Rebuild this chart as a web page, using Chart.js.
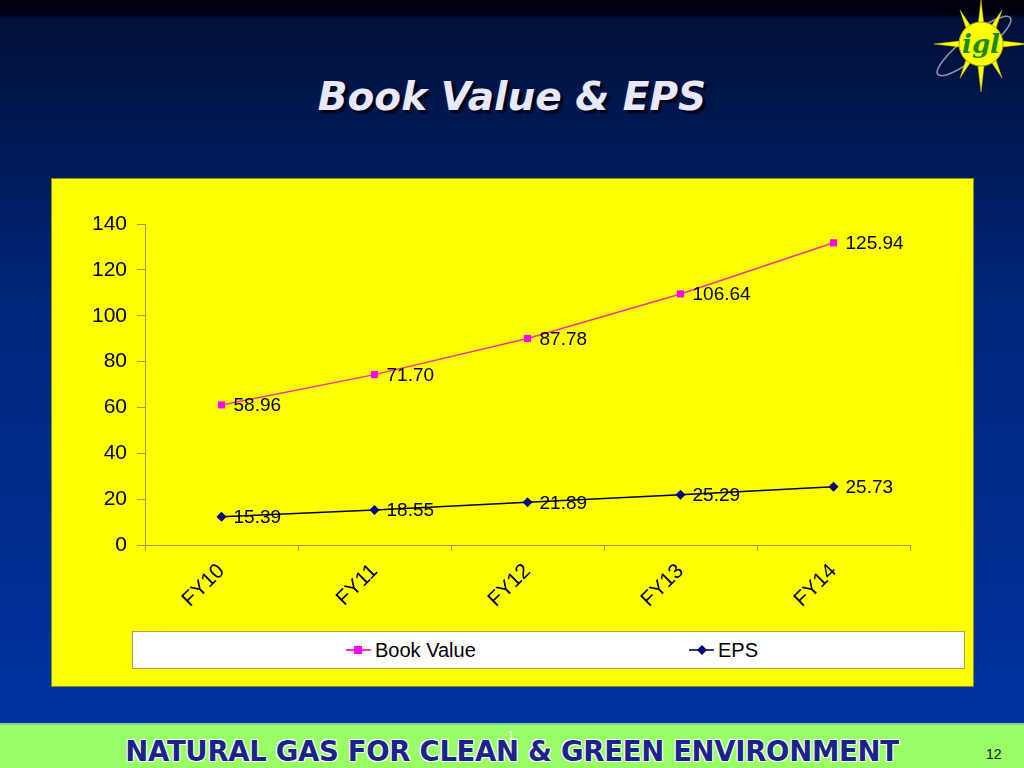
<!DOCTYPE html>
<html>
<head>
<meta charset="utf-8">
<script src="https://cdn.jsdelivr.net/npm/chart.js@4/dist/chart.umd.min.js"></script>
<style>
  html, body { margin: 0; padding: 0; }
  body {
    width: 1024px; height: 768px; position: relative; overflow: hidden;
    background: linear-gradient(to bottom, #00000f 0px, #00000f 14px, #001038 18px, #00267a 300px, #0033a0 720px);
    font-family: Arial, "Liberation Sans", sans-serif;
  }
  #title {
    position: absolute; left: 0; width: 1024px; top: 74px; text-align: center;
    font-family: "Comic Sans MS", "DejaVu Sans", sans-serif;
    font-weight: bold; font-style: italic; font-size: 39px; color: #e8e8ff;
    text-shadow: 3px 3px 2px #000018;
  }
  #panel {
    position: absolute; left: 52px; top: 179px; width: 921px; height: 507px;
    background: #ffff00; box-shadow: 0 0 0 1px #8a8a30;
  }
  #panel canvas { position: absolute; left: 0; top: 0; }
  #legend {
    position: absolute; left: 80px; top: 452px; width: 831px; height: 36px;
    background: #fff; border: 1px solid #a8a848;
    font-size: 20px; color: #000;
  }
  .item { position: absolute; top: 7px; height: 22px; line-height: 22px; }
  .item svg { position: absolute; left: 0; top: 3px; }
  .item span { position: absolute; left: 30px; white-space: nowrap; }
  #footer {
    position: absolute; left: 0; top: 723px; width: 1024px; height: 45px;
    background: #99ff66; border-top: 2px solid #7fd0a0;
  }
  #slogan {
    position: absolute; left: 0; width: 1024px; top: 10px; text-align: center;
    font-family: "Comic Sans MS", "DejaVu Sans", sans-serif; font-weight: bold;
    font-size: 27.5px; color: #1a2388; letter-spacing: -0.3px;
    text-shadow: -1px -1px 0 #fff, 1px -1px 0 #fff, -1px 1px 0 #fff, 1px 1px 0 #fff;
  }
  #page { position: absolute; left: 986px; top: 21px; font-size: 14px; color: #111; }
  #stray { position: absolute; left: 508px; top: 4px; font-size: 11px; color: #fff; }
  #logo { position: absolute; left: 930px; top: 0px; }
</style>
</head>
<body>
<svg id="logo" width="94" height="92" viewBox="0 0 94 92">
  <ellipse cx="44" cy="46" rx="46" ry="11" transform="rotate(-38 44 46)" fill="none" stroke="#8a93a8" stroke-width="1.6"/>
  <g fill="#ffff00" stroke="#c8c800" stroke-width="0.5">
    <polygon points="51,0 54,26 48,26"/>
    <polygon points="51,92 54,66 48,66"/>
    <polygon points="4,44 30,41 30,47"/>
    <polygon points="98,44 72,41 72,47"/>
    <polygon points="30,10 42,28 37,31"/>
    <polygon points="72,78 60,60 65,57"/>
    <polygon points="72,10 60,28 65,31"/>
    <polygon points="30,78 42,60 37,57"/>
  </g>
  <circle cx="51" cy="44" r="22" fill="#ffff00" stroke="#b0b000" stroke-width="1"/>
  <text x="51" y="53" text-anchor="middle" font-family="DejaVu Serif, serif" font-style="italic" font-weight="bold" font-size="26" fill="#1a8a1a">igl</text>
</svg>

<div id="title">Book Value &amp; EPS</div>

<div id="panel">
  <canvas id="chart" width="921" height="507"></canvas>
  <div id="legend">
    <div class="item" style="left:212px;">
      <svg width="28" height="16"><line x1="1" y1="8" x2="26" y2="8" stroke="#ff33aa" stroke-width="2"/><rect x="9" y="4" width="8" height="8" fill="#ff00ff"/></svg>
      <span>Book Value</span>
    </div>
    <div class="item" style="left:555px;">
      <svg width="28" height="16"><line x1="1" y1="8" x2="26" y2="8" stroke="#333388" stroke-width="2"/><polygon points="14,3 19,8 14,13 9,8" fill="#000080"/></svg>
      <span>EPS</span>
    </div>
  </div>
</div>

<div id="footer">
  <div id="stray">1</div>
  <div id="slogan">NATURAL GAS FOR CLEAN &amp; GREEN ENVIRONMENT</div>
  <div id="page">12</div>
</div>

<script>
var years = ['FY10', 'FY11', 'FY12', 'FY13', 'FY14'];
var bookValue = [61.1, 74.3, 90.1, 109.5, 131.8];
var eps = [12.3, 15.3, 18.6, 21.9, 25.4];

// data label text as printed on the slide
var bookValueLabels = ['58.96', '71.70', '87.78', '106.64', '125.94'];
var epsLabels = ['15.39', '18.55', '21.89', '25.29', '25.73'];

var yTicks = [0, 20, 40, 60, 80, 100, 120, 140];

var axisColor = '#9a9a48';
var fontFamily = 'Arial, "Liberation Sans", sans-serif';

// draws the value labels to the right of each point
var pointLabels = {
  id: 'pointLabels',
  afterDatasetsDraw: function (chart) {
    var ctx = chart.ctx;
    ctx.save();
    ctx.font = '19px ' + fontFamily;
    ctx.fillStyle = '#000';
    ctx.textAlign = 'left';
    ctx.textBaseline = 'middle';
    chart.data.datasets.forEach(function (ds, i) {
      chart.getDatasetMeta(i).data.forEach(function (pt, j) {
        ctx.fillText(ds.labelText[j], pt.x + 12, pt.y + 1);
      });
    });
    ctx.restore();
  }
};

var ctx = document.getElementById('chart').getContext('2d');
var myChart = new Chart(ctx, {
  type: 'line',
  data: {
    labels: years,
    datasets: [{
      label: 'Book Value',
      data: bookValue,
      labelText: bookValueLabels,
      borderColor: '#ff3399',
      backgroundColor: '#ff00ff',
      borderWidth: 1.5,
      pointStyle: 'rect',
      pointRadius: 5,
      pointBorderWidth: 0,
      tension: 0
    }, {
      label: 'EPS',
      data: eps,
      labelText: epsLabels,
      borderColor: '#000033',
      backgroundColor: '#000080',
      borderWidth: 1.5,
      pointStyle: 'rectRot',
      pointRadius: 5,
      pointBorderWidth: 0,
      tension: 0
    }]
  },
  options: {
    responsive: false,
    animation: false,
    layout: { padding: { left: 0, top: 45, right: 63, bottom: 61 } },
    plugins: {
      legend: { display: false },
      tooltip: { enabled: false }
    },
    scales: {
      x: {
        offset: true,
        grid: { display: true, offset: true, drawOnChartArea: false, drawTicks: true, tickLength: 6, color: axisColor },
        border: { color: axisColor, width: 1 },
        ticks: {
          color: '#000', font: { size: 21, family: fontFamily },
          minRotation: 45, maxRotation: 45, padding: 8
        },
        afterFit: function (scale) { scale.height = 80; }
      },
      y: {
        min: 0, max: 140,
        afterBuildTicks: function (scale) {
          scale.ticks = yTicks.map(function (v) { return { value: v }; });
        },
        grid: { display: true, drawOnChartArea: false, drawTicks: true, tickLength: 8, color: axisColor },
        border: { color: axisColor, width: 1 },
        ticks: { color: '#000', font: { size: 21, family: fontFamily }, padding: 10 },
        afterFit: function (scale) { scale.width = 93; }
      }
    }
  },
  plugins: [pointLabels]
});
</script>
</body>
</html>
